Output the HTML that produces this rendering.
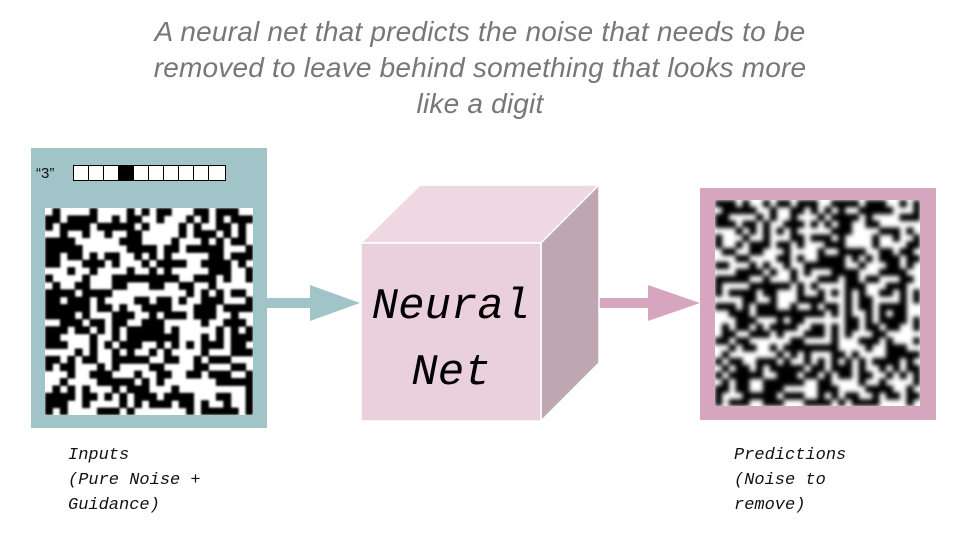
<!DOCTYPE html>
<html><head><meta charset="utf-8"><style>
body{margin:0;width:960px;height:540px;background:#fff;overflow:hidden;position:relative;font-family:"Liberation Sans",sans-serif}
.t{position:absolute;left:0;width:960px;text-align:center;color:#777;font-style:italic;font-size:28px;line-height:36px;top:14px;letter-spacing:0.2px}
.lab{position:absolute;font-family:"Liberation Mono",monospace;font-style:italic;font-size:17px;line-height:25px;color:#111}
.nz{position:absolute;overflow:hidden;background:#fff}
</style></head><body>
<div class="t">A neural net that predicts the noise that needs to be<br>removed to leave behind something that looks more<br>like a digit</div>
<svg width="960" height="540" style="position:absolute;left:0;top:0">
<rect x="31" y="148" width="236" height="280" fill="#a0c4c8"/>
<text x="36" y="178" font-family="Liberation Sans" font-size="15" fill="#111">“3”</text>
<g stroke="#000" stroke-width="1" fill="#fff">
<rect x="73.5" y="165.5" width="15" height="15"/><rect x="88.5" y="165.5" width="15" height="15"/><rect x="103.5" y="165.5" width="15" height="15"/><rect x="118.5" y="165.5" width="15" height="15" fill="#000"/><rect x="133.5" y="165.5" width="15" height="15"/><rect x="148.5" y="165.5" width="15" height="15"/><rect x="163.5" y="165.5" width="15" height="15"/><rect x="178.5" y="165.5" width="15" height="15"/><rect x="193.5" y="165.5" width="15" height="15"/><rect x="208.5" y="165.5" width="17" height="15"/></g>
<rect x="700" y="188" width="236" height="232" fill="#d6a6be"/>
<rect x="267" y="298" width="48" height="10" fill="#a0c4c8"/>
<polygon points="310,285 360,303 310,321" fill="#a0c4c8"/>
<rect x="599" y="298" width="52" height="10" fill="#d6a6be"/>
<polygon points="648,285 700,303 648,321" fill="#d6a6be"/>
<polygon points="361,243 420,185 599,185 541,243" fill="#eed8e1" stroke="#fff" stroke-width="1.5"/>
<polygon points="541,243 599,185 599,363 541,421" fill="#bea7b1" stroke="#fff" stroke-width="1.5"/>
<rect x="361" y="243" width="180" height="178" fill="#ead0dc" stroke="#fff" stroke-width="1.5"/>
<text x="451" y="318" text-anchor="middle" font-family="Liberation Mono" font-style="italic" font-size="44" fill="#000">Neural</text>
<text x="451" y="384" text-anchor="middle" font-family="Liberation Mono" font-style="italic" font-size="44" fill="#000">Net</text>
</svg>
<div class="nz" style="left:45px;top:208px;width:208px;height:207px"><svg id="n1" width="208" height="207" style="filter:blur(1px)"></svg></div>
<div class="nz" style="left:715px;top:200px;width:205px;height:206px"><svg id="n2" width="205" height="206" style="filter:blur(2.5px)"></svg></div>
<div class="lab" style="left:68px;top:443px">Inputs<br>(Pure Noise +<br>Guidance)</div>
<div class="lab" style="left:734px;top:443px">Predictions<br>(Noise to<br>remove)</div>
<script>
var s=12345;function r(){s=(s*1103515245+12345)%2147483648;return s/2147483648;}
function fill(id,w,h,n){var g=document.getElementById(id),cw=w/n,ch=h/n,out='';
for(var i=0;i<n;i++)for(var j=0;j<n;j++)if(r()<0.5)out+='<rect x="'+(j*cw)+'" y="'+(i*ch)+'" width="'+(cw+0.5)+'" height="'+(ch+0.5)+'" fill="#000"/>';
g.innerHTML=out;}
fill('n1',208,207,28);fill('n2',205,206,30);
</script>
</body></html>
